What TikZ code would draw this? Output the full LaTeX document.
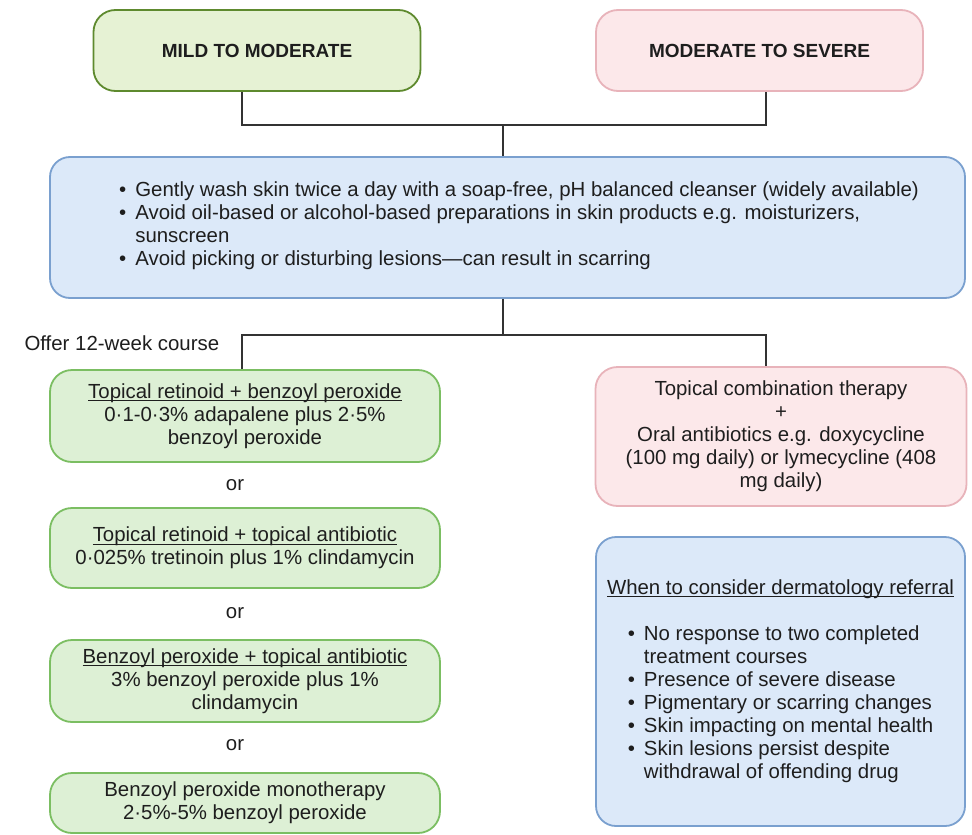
\documentclass[tikz,border=0pt]{standalone}
\usepackage{fontspec}
\setmainfont{Liberation Sans}
\usetikzlibrary{positioning}
\definecolor{mildfill}{HTML}{E6F2D4}
\definecolor{mildline}{HTML}{5E8A2E}
\definecolor{sevfill}{HTML}{FCE8EA}
\definecolor{sevline}{HTML}{E8B3BA}
\definecolor{bluefill}{HTML}{DCE9F9}
\definecolor{blueline}{HTML}{7AA0CF}
\definecolor{greenfill}{HTML}{DDF0D5}
\definecolor{greenline}{HTML}{7BBE62}
\definecolor{texte}{HTML}{1E1E1E}
\newcommand{\souligne}[1]{\setbox0\hbox{#1}\rlap{\rule[-2.8pt]{\wd0}{0.9pt}}\box0}

\begin{document}
\begin{tikzpicture}[x=1pt,y=-1pt,
  every node/.style={font=\fontsize{20.4}{23}\selectfont,text=texte},
  box/.style={draw,rounded corners=22pt,line width=1.8pt,inner sep=0pt,align=center},
  mildbox/.style={box,fill=mildfill,draw=mildline,font=\bfseries\fontsize{19}{23}\selectfont},
  sevbox/.style={box,fill=sevfill,draw=sevline},
  washbox/.style={box,fill=bluefill,draw=blueline,rounded corners=20pt},
  greenbox/.style={box,fill=greenfill,draw=greenline,minimum width=390pt},
  link/.style={draw=black!80,line width=1.3pt}]
  \useasboundingbox[fill=white] (0,0) rectangle (972,835);
  % les deux niveaux
  \node[mildbox,minimum width=327pt,minimum height=81pt] (mild) at (257,50.5) {MILD TO MODERATE};
  \node[mildbox,sevbox,minimum width=327pt,minimum height=81pt] (severe) at (759.5,50.5) {MODERATE TO SEVERE};
  % conseils generaux
  \node[washbox,minimum width=915pt,minimum height=141pt] (wash) at (507.5,227.5) {};
  \node (washtxt) at (519,226) {\begin{tabular}{@{}l@{\hspace{9pt}}l@{}}
    \textbullet & Gently wash skin twice a day with a soap-free, pH balanced cleanser (widely available)\\
    \textbullet & Avoid oil-based or alcohol-based preparations in skin products e.g. moisturizers,\\
     & sunscreen\\
    \textbullet & Avoid picking or disturbing lesions—can result in scarring
  \end{tabular}};
  \node[anchor=west] (offer) at (21,343) {Offer 12-week course};
  % traitements legers
  \node[greenbox,minimum height=92pt] (g1) at (245,416) {\souligne{Topical retinoid + benzoyl peroxide}\\0·1-0·3\% adapalene plus 2·5\%\\benzoyl peroxide};
  \node (or1) at (235,485) {or};
  \node[greenbox,minimum height=80pt] (g2) at (245,548) {\souligne{Topical retinoid + topical antibiotic}\\0·025\% tretinoin plus 1\% clindamycin};
  \node (or2) at (235,613) {or};
  \node[greenbox,minimum height=82pt] (g3) at (245,681) {\souligne{Benzoyl peroxide + topical antibiotic}\\3\% benzoyl peroxide plus 1\%\\clindamycin};
  \node (or3) at (235,745) {or};
  \node[greenbox,minimum height=60pt] (g4) at (245,803) {Benzoyl peroxide monotherapy\\2·5\%-5\% benzoyl peroxide};
  % traitements severes
  \node[sevbox,minimum width=371pt,minimum height=139pt] (r1) at (781,436.5) {Topical combination therapy\\+\\Oral antibiotics e.g. doxycycline\\(100 mg daily) or lymecycline (408\\mg daily)};
  \node[washbox,minimum width=369pt,minimum height=289pt] (refer) at (780.5,681.5) {\begin{tabular}{@{}c@{}}
    \souligne{When to consider dermatology referral}\\[23pt]
    \begin{tabular}{@{}l@{\hspace{9pt}}l@{}}
      \textbullet & No response to two completed\\
       & treatment courses\\
      \textbullet & Presence of severe disease\\
      \textbullet & Pigmentary or scarring changes\\
      \textbullet & Skin impacting on mental health\\
      \textbullet & Skin lesions persist despite\\
       & withdrawal of offending drug
    \end{tabular}
  \end{tabular}};
  % traits de liaison
  \coordinate (colL) at (242,0);
  \coordinate (colM) at (503,0);
  \coordinate (colR) at (766,0);
  \coordinate (j1) at (503,125);
  \coordinate (j2) at (503,335);
  \draw[link] (colL |- mild.south) |- (j1) -| (colR |- severe.south);
  \draw[link] (j1) -- (colM |- wash.north);
  \draw[link] (colM |- wash.south) -- (j2);
  \draw[link] (colL |- g1.north) |- (j2) -| (colR |- r1.north);
\end{tikzpicture}
\end{document}
